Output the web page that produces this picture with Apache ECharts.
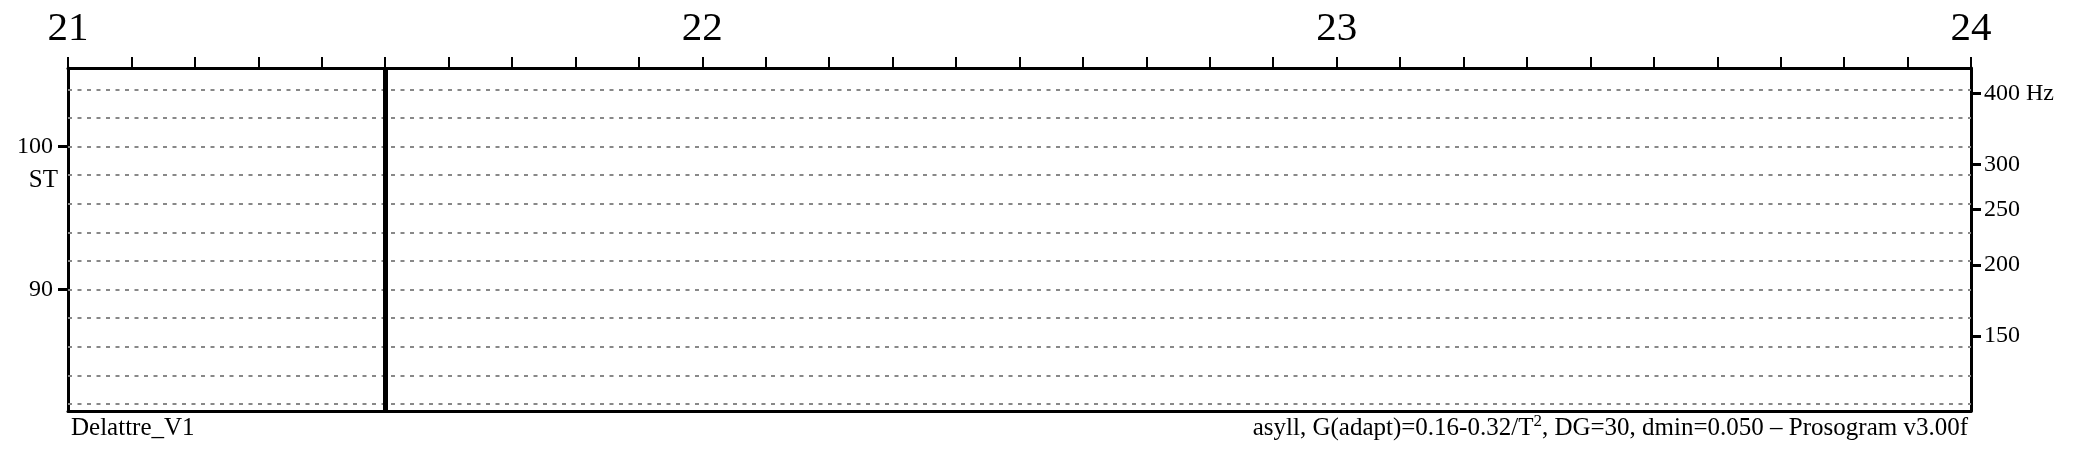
<!DOCTYPE html>
<html>
<head>
<meta charset="utf-8">
<script src="https://cdn.jsdelivr.net/npm/echarts@6/dist/echarts.min.js"></script>
<style>
html,body{margin:0;padding:0;background:#fff;}
#chart{width:2085px;height:450px;}
</style>
</head>
<body>
<div id="chart"></div>
<script>
// ---- data ----
var timeLabels = [21, 22, 23, 24];          // top time axis labels (s)
var stLabels = [90, 100];                    // left axis labels (semitones)
var hzLabels = [400, 300, 250, 200, 150];    // right axis labels (Hz)
var stGridLines = [82, 84, 86, 88, 90, 92, 94, 96, 98, 100, 102, 104]; // dotted guide lines (ST)
var boundaries = [21.5];                     // thick vertical boundary (s)
var speakerLabel = 'Delattre_V1';
var settingsLabel = 'asyll, G(adapt)=0.16-0.32/T{sup|2}, DG=30, dmin=0.050 – Prosogram v3.00f';

var font = '"Liberation Serif", "Times New Roman", serif';
function hzToSt(h) { return 12 * Math.log2(h); }
var hzTickSt = hzLabels.map(hzToSt);

var chart = echarts.init(document.getElementById('chart'), null, {renderer: 'canvas'});
chart.setOption({
  animation: false,
  backgroundColor: '#fff',
  grid: {left: 68, right: 114, top: 68, bottom: 39, containLabel: false},
  xAxis: [{
    type: 'value', position: 'top', min: 21, max: 24, interval: 0.1,
    axisLine: {show: true, lineStyle: {color: '#000', width: 3}},
    axisTick: {show: true, inside: false, length: 11, lineStyle: {color: '#000', width: 2}},
    axisLabel: {
      show: true, margin: 18, fontFamily: font, fontSize: 41, color: '#000',
      formatter: function (v) {
        for (var i = 0; i < timeLabels.length; i++) {
          if (Math.abs(v - timeLabels[i]) < 1e-6) return String(timeLabels[i]);
        }
        return '';
      }
    },
    splitLine: {show: false}
  }, {
    type: 'value', position: 'bottom', min: 21, max: 24,
    axisLine: {show: true, lineStyle: {color: '#000', width: 3}},
    axisTick: {show: false}, axisLabel: {show: false}, splitLine: {show: false}
  }],
  yAxis: [{
    type: 'value', position: 'left', min: 81.5, max: 105.5,
    axisLine: {show: true, lineStyle: {color: '#000', width: 3}},
    axisTick: {show: true, length: 10, customValues: stLabels, lineStyle: {color: '#000', width: 3}},
    axisLabel: {show: true, customValues: stLabels, margin: 15, fontFamily: font, fontSize: 24, color: '#000'},
    splitLine: {show: false}
  }, {
    type: 'value', position: 'right', min: 81.5, max: 105.5,
    axisLine: {show: true, lineStyle: {color: '#000', width: 3}},
    axisTick: {show: true, length: 10, customValues: hzTickSt, lineStyle: {color: '#000', width: 3}},
    axisLabel: {
      show: true, customValues: hzTickSt, margin: 13, fontFamily: font, fontSize: 24, color: '#000',
      formatter: function (v) {
        var best = 0, bd = 1e9;
        for (var i = 0; i < hzTickSt.length; i++) {
          var d = Math.abs(hzTickSt[i] - v);
          if (d < bd) { bd = d; best = i; }
        }
        return hzLabels[best] + (best === 0 ? ' Hz' : '');
      }
    },
    splitLine: {show: false}
  }],
  series: [{
    type: 'line', xAxisIndex: 0, yAxisIndex: 0, data: [], silent: true,
    markLine: {
      silent: true, symbol: ['none', 'none'], animation: false,
      label: {show: false},
      lineStyle: {color: '#888', type: [4, 5.5], width: 2},
      data: stGridLines.map(function (s) { return {yAxis: s}; })
    }
  }, {
    type: 'line', xAxisIndex: 0, yAxisIndex: 0, data: [], silent: true, z: 5,
    markLine: {
      silent: true, symbol: ['none', 'none'], animation: false,
      label: {show: false},
      lineStyle: {color: '#000', type: 'solid', width: 5},
      data: boundaries.map(function (t) { return {xAxis: t}; })
    }
  }],
  graphic: [{
    type: 'text', x: 58, y: 180.5,
    style: {text: 'ST', fontFamily: font, fontSize: 25, fill: '#000', align: 'right', verticalAlign: 'middle'}
  }, {
    type: 'text', x: 71, y: 428,
    style: {text: speakerLabel, fontFamily: font, fontSize: 25, fill: '#000', align: 'left', verticalAlign: 'middle'}
  }, {
    type: 'text', x: 1968, y: 428,
    style: {
      text: settingsLabel, fontFamily: font, fontSize: 25, fill: '#000', align: 'right', verticalAlign: 'middle',
      rich: {sup: {fontFamily: font, fontSize: 17, fill: '#000', verticalAlign: 'top', padding: [0, 0, 12, 0]}}
    }
  }]
});
</script>
</body>
</html>
